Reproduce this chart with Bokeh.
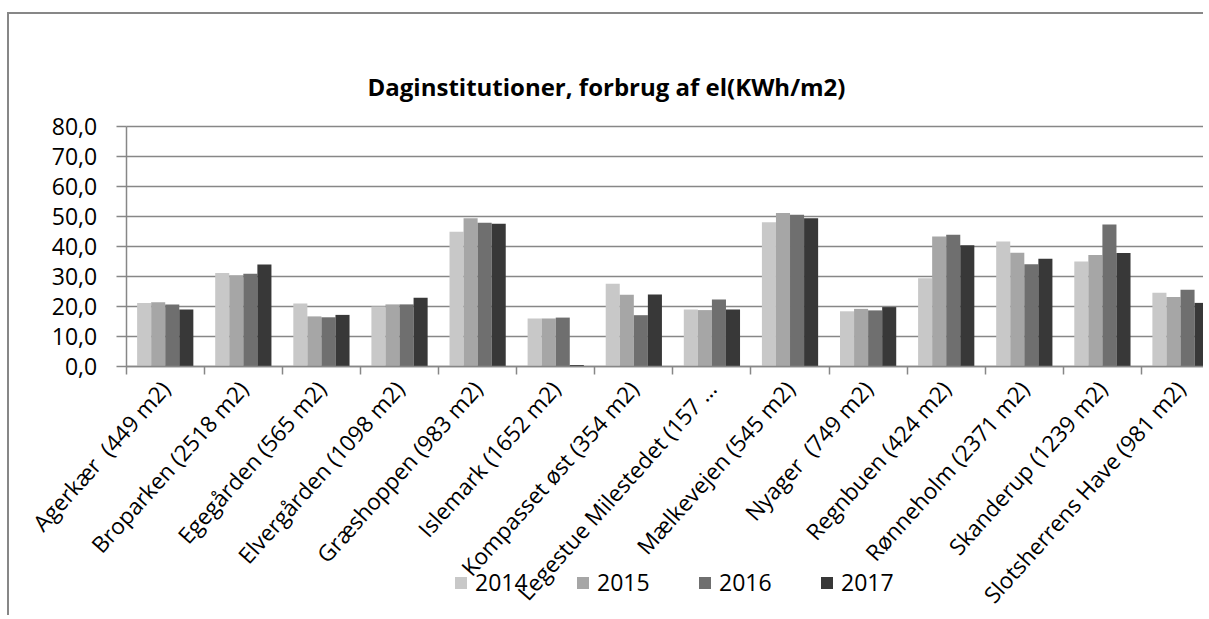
from bokeh.plotting import figure
from bokeh.models import (Range1d, FixedTicker, Legend, LegendItem, Label, ColumnDataSource)
from bokeh.embed import file_html
from bokeh.resources import INLINE

title = "Daginstitutioner, forbrug af el(KWh/m2)"
categories = [
    "Agerkær\u00a0 (449 m2)", "Broparken (2518 m2)", "Egegården (565 m2)",
    "Elvergården (1098 m2)", "Græshoppen (983 m2)", "Islemark (1652 m2)",
    "Kompasset øst (354 m2)", "Legestue Milestedet (157 …", "Mælkevejen (545 m2)",
    "Nyager\u00a0 (749 m2)", "Regnbuen (424 m2)", "Rønneholm (2371 m2)",
    "Skanderup (1239 m2)", "Slotsherrens Have (981 m2)",
]
years = ["2014", "2015", "2016", "2017"]
v2014 = [21.2, 31.2, 21.0, 20.0, 44.9, 16.0, 27.6, 19.0, 48.1, 18.4, 29.4, 41.7, 35.0, 24.6]
v2015 = [21.4, 30.4, 16.7, 20.7, 49.4, 16.0, 23.9, 18.8, 51.2, 19.2, 43.3, 37.9, 37.2, 23.2]
v2016 = [20.7, 30.9, 16.4, 20.7, 47.9, 16.3, 17.1, 22.3, 50.6, 18.7, 43.9, 34.1, 47.3, 25.6]
v2017 = [19.0, 34.0, 17.2, 22.9, 47.6, 0.5, 24.0, 19.0, 49.4, 19.8, 40.4, 35.9, 37.8, 21.2]
series = [v2014, v2015, v2016, v2017]
y_ticks = [0, 10, 20, 30, 40, 50, 60, 70, 80]
y_tick_labels = ["0,0", "10,0", "20,0", "30,0", "40,0", "50,0", "60,0", "70,0", "80,0"]

colors = ["#c8c8c8", "#a6a6a6", "#6f6f6f", "#383838"]
FONT = "Open Sans"
GRID = "#878787"

n = len(categories)
W, H = 1196, 603
p = figure(width=W, height=H, output_backend="svg", toolbar_location=None,
           x_range=Range1d(-1.494, 13.82), y_range=Range1d(-83.67, 117.33),
           min_border_left=0, min_border_right=0, min_border_top=0,
           min_border_bottom=0)
p.title.visible = False
p.styles = {"border-left": f"2px solid {GRID}", "border-top": f"2px solid {GRID}",
            "margin-top": "12px", "margin-left": "7px"}
p.outline_line_color = None
p.xgrid.grid_line_color = None
p.ygrid.grid_line_color = GRID
p.ygrid.grid_line_width = 1.5
p.ygrid.cross_bounds = (0, n)

bar_w = 0.18
renderers = []
for k, (yr, vals) in enumerate(zip(years, series)):
    xs = [i + 0.5 + (k - 1.5) * bar_w for i in range(n)]
    src = ColumnDataSource(dict(x=xs, top=vals))
    r = p.vbar(x="x", top="top", width=bar_w, bottom=0, source=src,
               fill_color=colors[k], line_color=None)
    renderers.append(r)

# y axis (drawn at x = 0)
yax = p.yaxis[0]
yax.fixed_location = 0
yax.ticker = FixedTicker(ticks=y_ticks)
yax.bounds = (0, 80)
yax.major_label_overrides = {t: s for t, s in zip(y_ticks, y_tick_labels)}
yax.axis_line_color = GRID
yax.axis_line_width = 1.5
yax.major_tick_line_color = GRID
yax.major_tick_line_width = 1.5
yax.major_tick_out = 10
yax.major_tick_in = 0
yax.minor_tick_line_color = None
yax.major_label_standoff = 19
yax.major_label_text_font = FONT
yax.major_label_text_font_size = "23px"
yax.major_label_text_color = "black"

# x axis (drawn at y = 0)
xax = p.xaxis[0]
xax.fixed_location = 0
xax.bounds = (0, n)
centers = [i + 0.5 for i in range(n)]
xax.ticker = FixedTicker(ticks=centers, minor_ticks=list(range(n + 1)))
xax.major_label_overrides = {c: s for c, s in zip(centers, categories)}
xax.major_label_orientation = 0.84
xax.axis_line_color = GRID
xax.axis_line_width = 1.5
xax.major_tick_line_color = None
xax.minor_tick_line_color = GRID
xax.minor_tick_line_width = 1.5
xax.minor_tick_out = 8
xax.minor_tick_in = 0
xax.major_label_standoff = 10
xax.major_label_text_font = FONT
xax.major_label_text_font_size = "22.5px"
xax.major_label_text_color = "black"

p.add_layout(Label(x=597, y=531, x_units="screen", y_units="screen",
                   text=title, text_font=FONT, text_font_style="bold",
                   text_font_size="24px", text_align="center",
                   text_baseline="middle", text_color="black"))

legend = Legend(items=[LegendItem(label=yr, renderers=[r]) for yr, r in zip(years, renderers)],
                orientation="horizontal", location=(444, 19),
                glyph_width=15, glyph_height=15, label_standoff=7,
                label_width=53, spacing=47, padding=0, margin=0,
                border_line_color=None, background_fill_alpha=0,
                label_text_font=FONT, label_text_font_size="23px",
                label_text_color="black", label_height=22)
p.add_layout(legend, "center")

open("out.html", "w").write(file_html(p, INLINE))
